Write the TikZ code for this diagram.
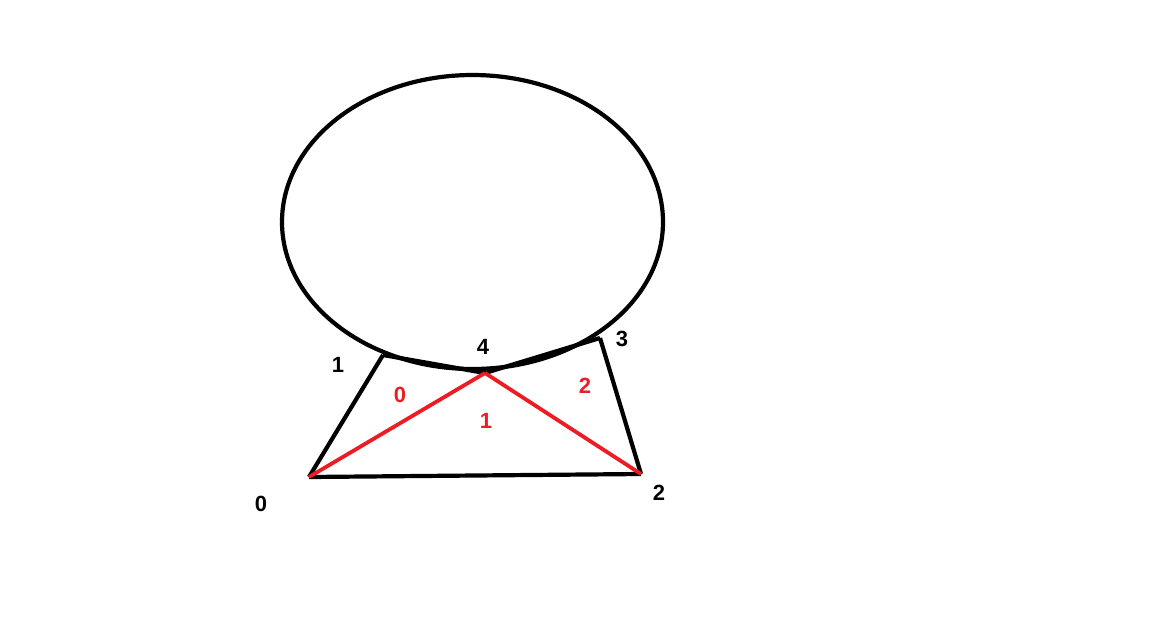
\documentclass[tikz,border=0pt]{standalone}
\usepackage{fontspec}
\setmainfont{Liberation Sans}
\definecolor{paintred}{RGB}{237,28,36}
\begin{document}
\begin{tikzpicture}[x=0.5pt, y=-0.5pt, line join=round,
    edge/.style={line width=2.1pt, black},
    rededge/.style={line width=1.9pt, paintred},
    vlabel/.style={font=\fontsize{11}{13}\selectfont\bfseries, text=black},
    flabel/.style={font=\fontsize{11}{13}\selectfont\bfseries, text=paintred}]
\useasboundingbox (0,0) rectangle (1151,638);
% the ellipse
    \draw[edge] (472.5,222) ellipse [x radius=190.5, y radius=147];
% vertices
    \coordinate (v0) at (309,477);
    \coordinate (v1) at (383,355);
    \coordinate (v2) at (641,474);
    \coordinate (v3) at (600,338);
    \coordinate (v4) at (485,373);
% black edges
    \draw[edge] (v0) -- (v1);
    \draw[edge] (v1) -- (v4);
    \draw[edge] (v4) -- (v3);
    \draw[edge] (v3) -- (v2);
    \draw[edge] (v2) -- (v0);
% red edges
    \draw[rededge] (v0) -- (v4);
    \draw[rededge] (v4) -- (v2);
% vertex labels
    \node[vlabel] (l0) at (261,504) {0};
    \node[vlabel] (l1) at (338,365) {1};
    \node[vlabel] (l2) at (659,493) {2};
    \node[vlabel] (l3) at (622,339) {3};
    \node[vlabel] (l4) at (483,347) {4};
% face labels
    \node[flabel] (f0) at (400,395) {0};
    \node[flabel] (f1) at (486,421) {1};
    \node[flabel] (f2) at (585,386) {2};
\end{tikzpicture}
\end{document}
